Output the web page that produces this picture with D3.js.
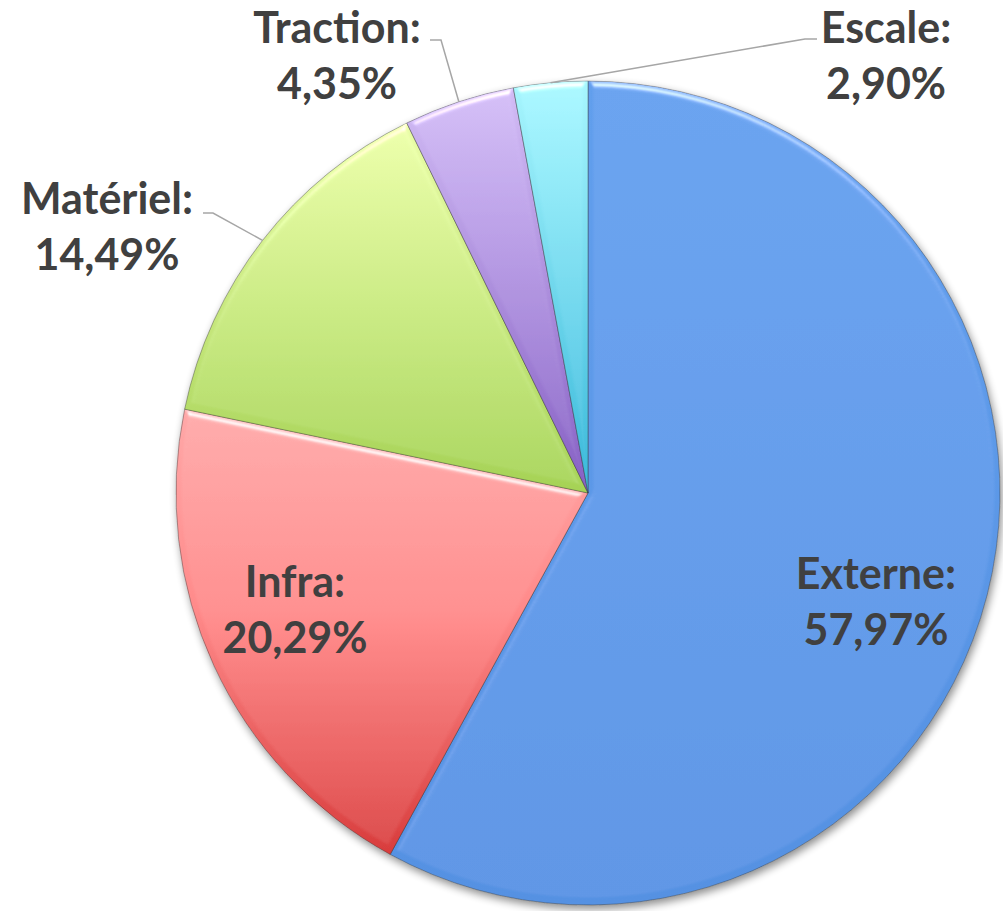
<!DOCTYPE html>
<html>
<head>
<meta charset="utf-8">
<script src="https://cdn.jsdelivr.net/npm/d3@7"></script>
<style>
  html, body { margin: 0; padding: 0; background: #fff; }
  svg { display: block; }
</style>
</head>
<body>
<svg id="chart" width="1003" height="911"></svg>
<script>
// ---- data ----
const categories = ["Externe", "Infra", "Matériel", "Traction", "Escale"];
const values = [57.97, 20.29, 14.49, 4.35, 2.90];
const valueLabels = ["57,97%", "20,29%", "14,49%", "4,35%", "2,90%"];

// ---- styles / layout ----
const gradStops = [
  [["0%", "#629fed"], ["100%", "#5591e2"]],
  [["0%", "#ffa8a8"], ["45%", "#ff8a8a"], ["100%", "#d83c3c"]],
  [["0%", "#eafda8"], ["100%", "#a5d255"]],
  [["0%", "#d2bcf5"], ["100%", "#8660c4"]],
  [["0%", "#a8f6fe"], ["100%", "#38b8da"]]
];
const labelLayout = [
  { x: 876, y: 589, inside: true },
  { x: 295, y: 597, inside: true },
  { x: 107, y: 214, elbow: [213, 213], end: [203, 213] },
  { x: 337, y: 43, elbow: [441, 40], end: [430, 40] },
  { x: 886, y: 43, elbow: [805, 39], end: [817, 39] }
];

const cx = 588, cy = 493, R = 412;
const svg = d3.select("#chart");
const defs = svg.append("defs");

gradStops.forEach((stops, i) => {
  const g = defs.append("linearGradient")
    .attr("id", "g" + i).attr("x1", 0).attr("y1", 0).attr("x2", 0).attr("y2", 1);
  stops.forEach(s => g.append("stop").attr("offset", s[0]).attr("stop-color", s[1]));
});

const sh = defs.append("filter").attr("id", "shadow")
  .attr("x", "-10%").attr("y", "-10%").attr("width", "120%").attr("height", "120%");
sh.append("feGaussianBlur").attr("in", "SourceAlpha").attr("stdDeviation", 4).attr("result", "b");
sh.append("feOffset").attr("in", "b").attr("dx", 2).attr("dy", 4).attr("result", "o");
sh.append("feComponentTransfer").attr("in", "o").attr("result", "o2")
  .append("feFuncA").attr("type", "linear").attr("slope", 0.45);
const m = sh.append("feMerge");
m.append("feMergeNode").attr("in", "o2");
m.append("feMergeNode").attr("in", "SourceGraphic");

// bevel filter (highlight on edges facing top)
const bv = defs.append("filter").attr("id", "bevel")
  .attr("x", "-5%").attr("y", "-5%").attr("width", "110%").attr("height", "110%");
bv.append("feGaussianBlur").attr("in", "SourceAlpha").attr("stdDeviation", 3).attr("result", "blur");
const spec = bv.append("feSpecularLighting").attr("in", "blur").attr("surfaceScale", 4)
  .attr("specularConstant", 0.8).attr("specularExponent", 25)
  .attr("lighting-color", "#ffffff").attr("result", "spec");
spec.append("feDistantLight").attr("azimuth", 270).attr("elevation", 35);
bv.append("feComposite").attr("in", "spec").attr("in2", "SourceAlpha").attr("operator", "in").attr("result", "specIn");
bv.append("feComposite").attr("in", "SourceGraphic").attr("in2", "specIn")
  .attr("operator", "arithmetic").attr("k1", 0).attr("k2", 1).attr("k3", 0.7).attr("k4", 0);

const pie = d3.pie().sort(null).value(d => d);
const arcs = pie(values);
const arc = d3.arc().innerRadius(0).outerRadius(R);

const gPie = svg.append("g").attr("transform", `translate(${cx},${cy})`).attr("filter", "url(#shadow)");
gPie.selectAll("path.slice").data(arcs).enter().append("path")
  .attr("class", "slice")
  .attr("d", arc)
  .attr("fill", (d, i) => `url(#g${i})`)
  .attr("filter", "url(#bevel)")
  .attr("stroke", "rgba(50,50,50,0.4)")
  .attr("stroke-width", 1)
  .attr("stroke-linejoin", "round");

// leader lines
const edgeArc = d3.arc().innerRadius(R).outerRadius(R);
arcs.forEach((d, i) => {
  const L = labelLayout[i];
  if (L.inside) return;
  const c = edgeArc.centroid(d);
  const pts = [[c[0] + cx, c[1] + cy], L.elbow, L.end];
  svg.append("path")
    .attr("d", d3.line()(pts))
    .attr("fill", "none")
    .attr("stroke", "#a6a6a6")
    .attr("stroke-width", 1.5);
});

// labels
const gl = svg.append("g")
  .attr("font-family", "Lato, 'Open Sans', sans-serif")
  .attr("font-weight", 700)
  .attr("font-size", 43)
  .attr("fill", "#404040")
  .attr("text-anchor", "middle");
categories.forEach((c, i) => {
  const L = labelLayout[i];
  const t = gl.append("text").attr("x", L.x).attr("y", L.y);
  t.append("tspan").attr("x", L.x).attr("y", L.y).text(c + ":");
  t.append("tspan").attr("x", L.x).attr("y", L.y + 56).text(valueLabels[i]);
});
</script>
</body>
</html>
